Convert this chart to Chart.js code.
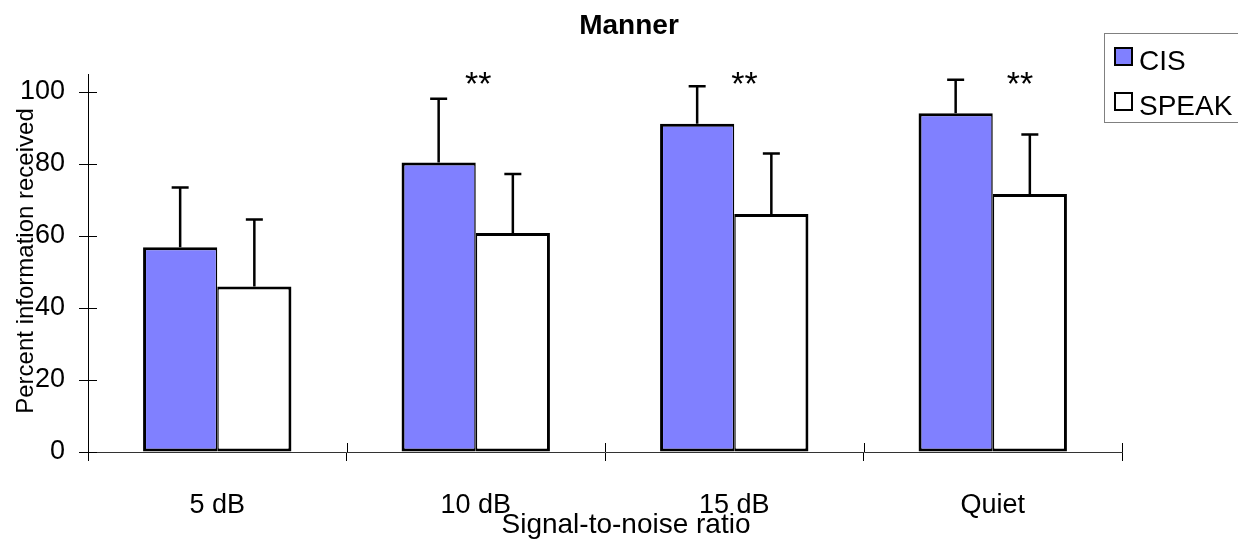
<!DOCTYPE html>
<html><head><meta charset="utf-8">
<script src="https://cdn.jsdelivr.net/npm/chart.js@4"></script>
<style>html,body{margin:0;padding:0;background:#fff}#wrap{width:1238px;height:543px;position:relative}</style>
</head><body><div id="wrap"><canvas id="c" width="1238" height="543"></canvas></div>
<script>
// ---- data ----
const categories = ['5 dB', '10 dB', '15 dB', 'Quiet'];
const cisValues = [56.9, 80.4, 91.2, 94.1];
const cisSD = [16.6, 17.7, 10.4, 9.3];
const speakValues = [46.0, 60.8, 66.1, 71.7];
const speakSD = [18.6, 16.4, 16.8, 16.5];
const yTickValues = [0, 20, 40, 60, 80, 100];
const significance = ['', '**', '**', '**'];
const seriesNames = ['CIS', 'SPEAK'];
const titleText = 'Manner';
const xTitle = 'Signal-to-noise ratio';
const yTitle = 'Percent information received';

// ---- style / layout ----
const FONT = "'Liberation Sans', Arial, sans-serif";
const sigNudge = [0, 0.01, 0.04, 0.105]; // horizontal nudge of "**" in category units
const sigLevel = 103; // vertical centre of "**" in axis units

const errorBars = {
  id: 'errorBars',
  afterDatasetsDraw(chart) {
    const ctx = chart.ctx, y = chart.scales.y;
    chart.data.datasets.forEach((ds, i) => {
      const meta = chart.getDatasetMeta(i);
      meta.data.forEach((el, j) => {
        const top = y.getPixelForValue(ds.data[j] + ds.errors[j]);
        ctx.save();
        ctx.strokeStyle = '#000';
        ctx.lineWidth = 2.5;
        ctx.beginPath();
        ctx.moveTo(el.x, el.y);
        ctx.lineTo(el.x, top);
        ctx.moveTo(el.x - 8.5, top);
        ctx.lineTo(el.x + 8.5, top);
        ctx.stroke();
        ctx.restore();
      });
    });
  }
};

const decorations = {
  id: 'decorations',
  afterDraw(chart) {
    const ctx = chart.ctx, xs = chart.scales.x, ys = chart.scales.y, area = chart.chartArea;
    ctx.save();
    // inner halves of the crossing tick marks
    ctx.strokeStyle = '#000';
    ctx.lineWidth = 1;
    ctx.beginPath();
    yTickValues.forEach(v => {
      const py = Math.round(ys.getPixelForValue(v)) + 0.5;
      ctx.moveTo(area.left, py); ctx.lineTo(area.left + 9, py);
    });
    for (let i = 0; i < categories.length; i++) {
      const px = Math.round(xs.getPixelForValue(i + 0.5)) + 0.5;
      ctx.moveTo(px, area.bottom); ctx.lineTo(px, area.bottom - 9);
    }
    ctx.stroke();

    // significance markers
    ctx.fillStyle = '#000';
    ctx.font = '34px ' + FONT;
    ctx.textAlign = 'center';
    ctx.textBaseline = 'middle';
    significance.forEach((s, i) => {
      if (!s) return;
      const px = xs.getPixelForValue(i + sigNudge[i]);
      const py = ys.getPixelForValue(sigLevel);
      ctx.fillText(s, px, py + 4);
    });

    // title
    ctx.font = 'bold 28px ' + FONT;
    ctx.textBaseline = 'alphabetic';
    ctx.fillText(titleText, 629, 34);

    // x axis title
    ctx.font = '28px ' + FONT;
    ctx.fillText(xTitle, 626, 533);

    // y axis title
    ctx.save();
    ctx.translate(33, 261);
    ctx.rotate(-Math.PI / 2);
    ctx.font = '24px ' + FONT;
    ctx.fillText(yTitle, 0, 0);
    ctx.restore();

    // legend
    ctx.strokeStyle = '#808080';
    ctx.lineWidth = 1;
    ctx.strokeRect(1104.5, 33.5, 140, 89);
    const ds = chart.data.datasets;
    const rows = [{sq: 48, base: 70}, {sq: 93, base: 115}];
    ctx.textAlign = 'left';
    ctx.font = '28px ' + FONT;
    rows.forEach((r, i) => {
      ctx.fillStyle = ds[i].backgroundColor;
      ctx.fillRect(1115, r.sq, 17, 17);
      ctx.strokeStyle = '#000';
      ctx.lineWidth = 2;
      ctx.strokeRect(1115, r.sq, 17, 17);
      ctx.fillStyle = '#000';
      ctx.fillText(ds[i].label, 1139, r.base);
    });
    ctx.restore();
  }
};

new Chart(document.getElementById('c'), {
  type: 'bar',
  data: {
    labels: categories,
    datasets: [
      { label: seriesNames[0], data: cisValues, errors: cisSD, backgroundColor: '#8080ff', borderColor: '#000',
        borderWidth: {left: 3, top: 3, right: 1.5, bottom: 3}, borderSkipped: false,
        categoryPercentage: 0.574, barPercentage: 1 },
      { label: seriesNames[1], data: speakValues, errors: speakSD, backgroundColor: '#ffffff', borderColor: '#000',
        borderWidth: {left: 1.5, top: 3, right: 3, bottom: 3}, borderSkipped: false,
        categoryPercentage: 0.574, barPercentage: 1 }
    ]
  },
  options: {
    responsive: false,
    animation: false,
    devicePixelRatio: 1,
    layout: { padding: { left: 0, top: 74, right: 116, bottom: 0 } },
    plugins: { legend: { display: false }, title: { display: false }, tooltip: { enabled: false } },
    scales: {
      x: {
        grid: { display: true, drawOnChartArea: false, offset: true, tickLength: 9, color: '#000', lineWidth: 1 },
        border: { display: true, color: '#333', width: 1 },
        ticks: { color: '#000', font: { family: FONT, size: 27 }, padding: 28, maxRotation: 0, autoSkip: false },
        afterFit(s) { s.height = 543 - 452; }
      },
      y: {
        min: 0, max: 105,
        afterBuildTicks(s) { s.ticks = yTickValues.map(v => ({ value: v })); },
        grid: { display: true, drawOnChartArea: false, tickLength: 9, color: '#000', lineWidth: 1 },
        border: { display: true, color: '#000', width: 1 },
        ticks: { color: '#000', font: { family: FONT, size: 27 }, padding: 14 },
        afterFit(s) { s.width = 88; }
      }
    }
  },
  plugins: [errorBars, decorations]
});
</script>
</body></html>
